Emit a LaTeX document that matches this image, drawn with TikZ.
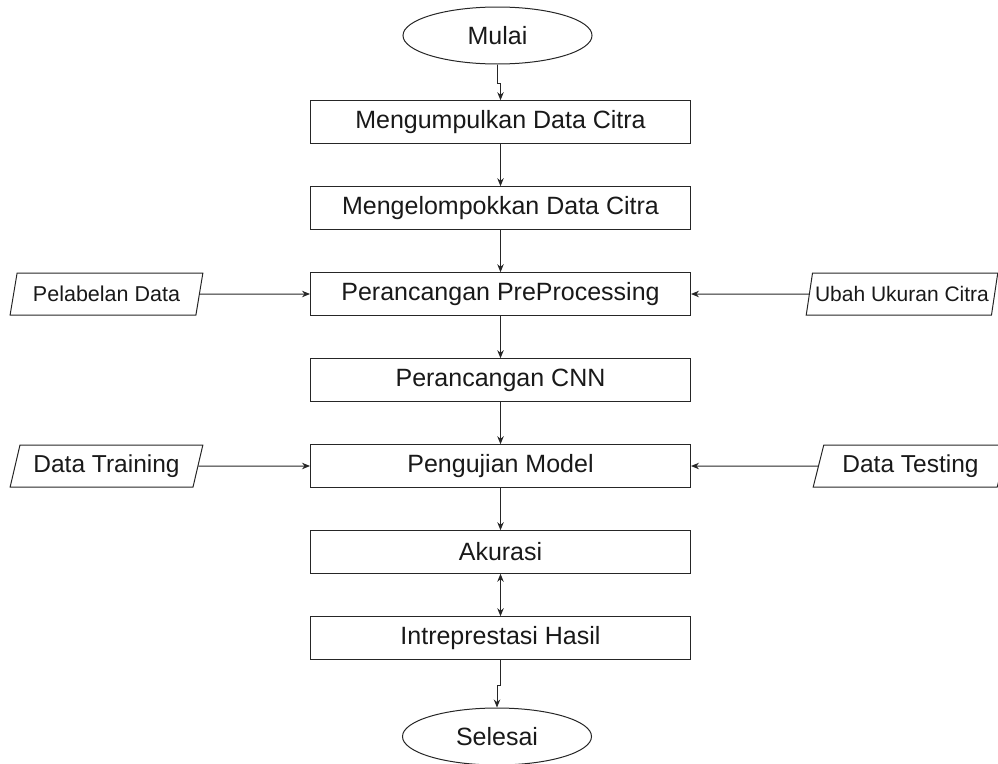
\documentclass[tikz,border=0pt]{standalone}
\usepackage{fontspec}
\setmainfont{Liberation Sans}
\usetikzlibrary{shapes.geometric,arrows.meta}

\tikzset{
    process/.style={draw=black!85, line width=1pt, minimum width=380pt,
        minimum height=42.6pt, inner sep=0pt, text=black!90,
        font=\fontsize{25}{30}\selectfont},
    terminal/.style={ellipse, draw=black!85, line width=1pt, minimum width=189pt,
        minimum height=57pt, inner sep=0pt, text=black!90,
        font=\fontsize{25}{30}\selectfont},
    dataio/.style={trapezium, trapezium left angle=70, trapezium right angle=110,
        trapezium stretches=true, draw=black!85, line width=1pt,
        minimum width=193pt, minimum height=42pt, inner sep=0pt, text=black!90},
    flow/.style={draw=black!85, line width=1pt, -{Stealth[length=8pt,width=6.5pt]}}
}

\begin{document}
\begin{tikzpicture}[x=1pt, y=-1pt]
    \useasboundingbox (0,0) rectangle (998,763);

    % Start and end
    \node[terminal] (mulai) at (497.5,35.5) {Mulai};
    \node[terminal] (selesai) at (497,736.5) {Selesai};

    % Main steps
    \node[process] (kumpul) at (500.5,122) {Mengumpulkan Data Citra};
    \node[process] (kelompok) at (500.5,208) {Mengelompokkan Data Citra};
    \node[process] (prepro) at (500.5,294) {Perancangan PreProcessing};
    \node[process] (cnn) at (500.5,380) {Perancangan CNN};
    \node[process] (uji) at (500.5,466) {Pengujian Model};
    \node[process] (akurasi) at (500.5,552) {Akurasi};
    \node[process] (hasil) at (500.5,638) {Intreprestasi Hasil};

    % Inputs on both sides
    \node[dataio, font=\fontsize{21.5}{26}\selectfont] (label) at (106.5,294) {Pelabelan Data};
    \node[dataio, font=\fontsize{21}{26}\selectfont, inner xsep=-7pt, minimum width=192pt] (ukuran) at (902,294) {Ubah Ukuran Citra};
    \node[dataio, font=\fontsize{24.5}{30}\selectfont] (training) at (106.5,466) {Data Training};
    \node[dataio, font=\fontsize{24.5}{30}\selectfont, minimum width=195pt] (testing) at (910.5,466) {Data Testing};

    % Arrows
    \draw[flow] (mulai.south) -- ++(0,19) -| (kumpul.north);
    \draw[flow] (kumpul) -- (kelompok);
    \draw[flow] (kelompok) -- (prepro);
    \draw[flow] (prepro) -- (cnn);
    \draw[flow] (cnn) -- (uji);
    \draw[flow] (uji) -- (akurasi);
    \draw[flow, {Stealth[length=8pt,width=6.5pt]}-{Stealth[length=8pt,width=6.5pt]}] (akurasi) -- (hasil);
    \draw[flow] (hasil.south) -- ++(0,26) -| (selesai.north);

    \draw[flow] (label.east) -- (prepro.west);
    \draw[flow] (ukuran.west) -- (prepro.east);
    \draw[flow] (training.east) -- (uji.west);
    \draw[flow] (testing.west) -- (uji.east);
\end{tikzpicture}
\end{document}
